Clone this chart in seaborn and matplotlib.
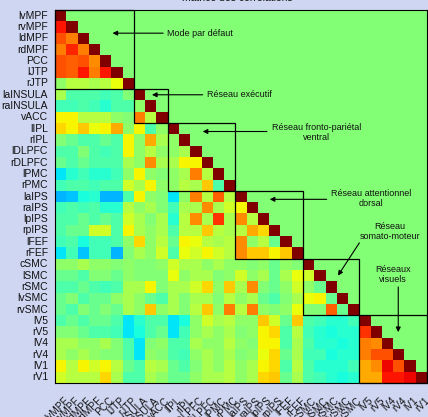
import numpy as np
import pandas as pd
import matplotlib
matplotlib.use("Agg")
import matplotlib.pyplot as plt
import matplotlib.transforms as mtransforms
from matplotlib.patches import Rectangle
import seaborn as sns

# Regions of interest, ordered by network
regions = ["lvMPF", "rvMPF", "ldMPF", "rdMPF", "PCC", "lJTP", "rJTP",
           "laINSULA", "raINSULA", "vACC",
           "lIPL", "rIPL", "lDLPFC", "rDLPFC", "lPMC", "rPMC",
           "laIPS", "raIPS", "lpIPS", "rpIPS", "lFEF", "rFEF",
           "cSMC", "lSMC", "rSMC", "lvSMC", "rvSMC",
           "lV5", "rV5", "lV4", "rV4", "lV1", "rV1"]

network_sizes = [7, 3, 6, 6, 5, 6]

# Lower-triangle correlations: each row holds the values left of the diagonal
default_mode_rows = [
    [],
    [0.75],
    [0.65, 0.55],
    [0.55, 0.72, 0.55],
    [0.65, 0.62, 0.65, 0.5],
    [0.65, 0.6, 0.75, 0.55, 0.75],
    [0.05, 0.15, 0.15, 0.1, 0.15, 0.25],
]

executive_rows = [
    [0.1, -0.1, -0.1, -0.1, -0.15, -0.1, 0.0],
    [-0.15, -0.15, -0.1, -0.15, -0.2, -0.1, -0.1, 0.05],
    [0.3, 0.3, 0.15, 0.15, 0.15, 0.05, 0.0, 0.55, 0.15],
]

ventral_rows = [
    [0.35, 0.3, 0.4, 0.25, 0.3, 0.45, 0.05, 0.3, -0.1, 0.05],
    [0.0, -0.05, -0.1, -0.1, -0.05, -0.1, 0.3, 0.05, 0.45, 0.1, 0.05],
    [-0.1, -0.1, 0.0, -0.1, -0.15, -0.1, 0.3, 0.05, 0.15, 0.05, 0.05, 0.1],
    [-0.05, -0.1, -0.05, -0.1, -0.1, -0.1, 0.1, 0.05, 0.5, 0.1, 0.1, 0.3, 0.3],
    [-0.3, -0.2, -0.15, -0.2, -0.2, -0.15, 0.05, 0.3, 0.05, 0.0, 0.05, 0.1,
     0.55, 0.15],
    [-0.15, -0.1, -0.1, -0.15, -0.1, -0.1, 0.2, 0.1, 0.3, 0.05, 0.05, 0.15,
     0.1, 0.4, -0.1],
]

dorsal_rows = [
    [-0.4, -0.35, -0.25, -0.2, -0.4, -0.4, -0.1, 0.3, 0.05, 0.0, -0.3, 0.05,
     0.55, 0.15, 0.6, 0.15],
    [-0.15, -0.1, -0.15, -0.1, -0.2, -0.2, 0.15, 0.05, 0.1, 0.0, -0.15, 0.1,
     0.1, 0.5, 0.1, 0.2, 0.3],
    [-0.1, -0.1, -0.05, -0.1, -0.05, -0.1, 0.2, 0.1, 0.0, 0.1, -0.2, 0.15,
     0.5, 0.1, 0.7, 0.1, 0.5, 0.15],
    [-0.1, -0.05, -0.05, 0.2, 0.2, -0.1, 0.3, 0.1, 0.05, 0.1, -0.1, 0.15,
     0.15, 0.4, 0.15, 0.1, 0.15, 0.45, 0.35],
    [-0.15, -0.1, -0.25, -0.15, -0.15, -0.1, 0.05, 0.35, 0.05, 0.15, -0.05,
     0.3, 0.25, 0.15, 0.1, 0.15, 0.5, 0.05, 0.15, -0.05],
    [-0.3, -0.15, -0.35, -0.15, -0.15, -0.4, 0.0, 0.1, 0.05, 0.2, -0.1, 0.25,
     0.2, 0.3, 0.2, 0.15, 0.5, 0.4, 0.4, 0.3, 0.4],
]

somatomotor_rows = [
    [0.05, 0.05, 0.1, 0.05, 0.05, 0.0, 0.05, 0.0, 0.0, 0.05, 0.2, 0.1, 0.1,
     0.05, 0.1, 0.05, 0.05, 0.0, 0.05, -0.05, 0.05, 0.0],
    [-0.05, -0.05, -0.1, 0.0, 0.0, -0.05, 0.05, 0.0, 0.0, 0.0, 0.25, 0.05,
     0.1, 0.1, 0.0, 0.05, 0.2, 0.05, 0.1, -0.05, 0.1, 0.25, 0.2],
    [-0.1, -0.1, -0.05, -0.1, -0.15, -0.1, 0.1, 0.1, 0.3, 0.0, 0.1, 0.1, 0.2,
     0.35, 0.05, 0.4, 0.1, 0.5, 0.0, -0.05, 0.05, 0.2, 0.05, -0.05],
    [-0.05, 0.0, -0.1, -0.05, -0.05, 0.05, 0.1, 0.05, -0.05, -0.1, 0.1, 0.0,
     0.1, 0.1, 0.0, 0.15, 0.05, 0.1, -0.05, -0.1, 0.0, 0.1, 0.25, 0.3, -0.05],
    [-0.05, -0.1, 0.0, -0.05, 0.0, -0.05, 0.1, 0.05, 0.4, 0.05, 0.1, 0.0,
     0.15, 0.4, 0.05, 0.55, 0.15, 0.55, 0.05, 0.0, 0.05, 0.25, 0.0, 0.0, 0.6,
     -0.05],
]

visual_rows = [
    [-0.1, -0.05, -0.1, -0.05, -0.05, -0.1, -0.3, -0.2, -0.1, -0.1, -0.3,
     -0.25, 0.05, 0.2, 0.1, 0.15, 0.05, 0.05, 0.4, 0.2, -0.05, 0.4, -0.1,
     -0.15, -0.2, -0.2, -0.15],
    [0.0, 0.0, -0.05, -0.1, -0.1, -0.15, -0.3, -0.25, -0.1, -0.05, -0.3,
     -0.15, 0.05, 0.1, 0.05, 0.1, 0.0, 0.05, 0.3, 0.35, -0.1, 0.15, -0.15,
     -0.2, -0.25, -0.2, -0.2, 0.7],
    [0.1, 0.1, 0.05, 0.05, 0.1, 0.0, -0.1, -0.3, 0.0, 0.05, -0.1, -0.1, 0.1,
     0.05, 0.05, 0.15, 0.05, 0.0, 0.3, 0.3, -0.1, 0.1, -0.1, -0.2, -0.2,
     -0.25, -0.2, 0.55, 0.5],
    [0.1, 0.05, 0.1, 0.05, 0.0, 0.0, -0.1, -0.3, 0.05, 0.0, -0.1, -0.15,
     0.05, 0.1, 0.05, 0.1, 0.0, 0.05, 0.25, 0.35, -0.05, 0.1, -0.15, -0.15,
     -0.25, -0.2, -0.2, 0.55, 0.65, 0.65],
    [0.3, 0.15, 0.3, 0.2, 0.3, 0.15, -0.05, -0.1, 0.15, 0.1, -0.05, -0.1,
     0.0, 0.1, 0.05, 0.15, 0.05, 0.1, 0.3, 0.35, -0.1, 0.15, -0.1, -0.2,
     -0.2, -0.2, -0.15, 0.45, 0.5, 0.8, 0.65],
    [0.2, 0.15, 0.15, 0.15, 0.35, 0.1, -0.1, -0.1, 0.1, 0.05, -0.05, -0.05,
     0.05, 0.1, 0.1, 0.15, 0.05, 0.1, 0.35, 0.4, -0.05, 0.1, -0.1, -0.15,
     -0.2, -0.25, -0.2, 0.45, 0.45, 0.75, 0.75, 0.8],
]

# Assemble the full matrix: lower triangle from the rows, 1 on the diagonal,
# 0 above it
all_rows = (default_mode_rows + executive_rows + ventral_rows + dorsal_rows
            + somatomotor_rows + visual_rows)
n = len(regions)
corr = np.zeros((n, n))
for i, vals in enumerate(all_rows):
    corr[i, :len(vals)] = vals
    corr[i, i] = 1.0
corr_df = pd.DataFrame(corr, index=regions, columns=regions)

sns.set_theme(style="white")
plt.rcParams["font.family"] = ["Liberation Sans", "DejaVu Sans"]

bg = "#cfd6f2"
fig = plt.figure(figsize=(4.28, 4.17), dpi=100, facecolor=bg)
ax = fig.add_axes([55 / 428, 34 / 417, 372 / 428, 373 / 417])

# 64-level jet, as in the classic MATLAB colour table
jet64 = plt.get_cmap("jet", 64)
sns.heatmap(corr_df, cmap=jet64, vmin=-1, vmax=1, cbar=False, ax=ax,
            xticklabels=True, yticklabels=True, linewidths=0)

for sp in ax.spines.values():
    sp.set_visible(True)
    sp.set_color("black")
    sp.set_linewidth(0.8)

ax.tick_params(axis="both", direction="in", length=3, width=0.6,
               color="black", top=True, right=True, bottom=True, left=True,
               labeltop=False, labelright=False)
ax.tick_params(axis="y", pad=5, labelsize=7.5, labelcolor="#111111")
ax.tick_params(axis="x", pad=9, labelsize=7.2, labelcolor="#111111")
ax.set_yticklabels(regions, rotation=0)
ax.set_xticklabels(regions, rotation=45, ha="right", rotation_mode="anchor")
shift = mtransforms.ScaledTranslation(3 / 100, 0, fig.dpi_scale_trans)
for lab in ax.get_xticklabels():
    lab.set_transform(lab.get_transform() + shift)
ax.set_xlabel("")
ax.set_ylabel("")

# Network blocks along the diagonal
start = 0
for size in network_sizes:
    ax.add_patch(Rectangle((start, start), size, size, fill=False,
                           edgecolor="black", linewidth=0.9, clip_on=False))
    start += size

arrow_kw = dict(arrowstyle="-|>", color="black", lw=0.8, mutation_scale=7,
                shrinkA=0, shrinkB=0)
txt_kw = dict(fontsize=6.5, color="#111111")

ax.annotate("", xy=(5.1, 2.05), xytext=(9.6, 2.05), arrowprops=arrow_kw)
ax.text(9.95, 2.05, "Mode par défaut", ha="left", va="center", **txt_kw)

ax.annotate("", xy=(8.6, 7.5), xytext=(13.1, 7.5), arrowprops=arrow_kw)
ax.text(13.45, 7.5, "Réseau exécutif", ha="left", va="center", **txt_kw)

ax.annotate("", xy=(13.1, 10.75), xytext=(18.8, 10.75), arrowprops=arrow_kw)
ax.text(23.2, 10.85, "Réseau fronto-pariétal\nventral", ha="center",
        va="center", multialignment="center", linespacing=1.1, **txt_kw)

ax.annotate("", xy=(19.05, 16.75), xytext=(24.1, 16.75), arrowprops=arrow_kw)
ax.text(28.05, 16.7, "Réseau attentionnel\ndorsal", ha="center",
        va="center", multialignment="center", linespacing=1.1, **txt_kw)

ax.annotate("", xy=(25.1, 23.5), xytext=(27.0, 20.6), arrowprops=arrow_kw)
ax.text(29.7, 19.6, "Réseau\nsomato-moteur", ha="center", va="center",
        multialignment="center", linespacing=1.1, **txt_kw)

ax.annotate("", xy=(30.45, 28.5), xytext=(30.45, 24.5), arrowprops=arrow_kw)
ax.text(30.0, 23.4, "Réseaux\nvisuels", ha="center", va="center",
        multialignment="center", linespacing=1.1, **txt_kw)

fig.text(237 / 428, 0.993, "matrice des corrélations", ha="center",
         va="bottom", fontsize=7.5, color="#111111")

fig.savefig("out.png", dpi=100, facecolor=bg)
